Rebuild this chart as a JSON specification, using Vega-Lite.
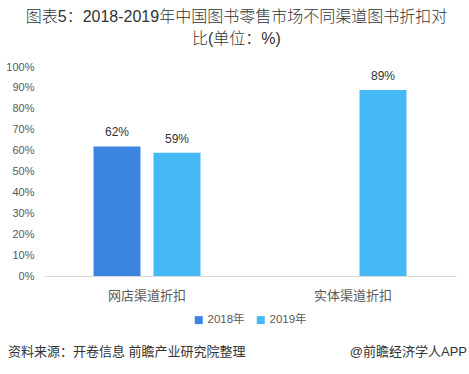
{
  "$schema": "https://vega.github.io/schema/vega-lite/v6.json",
  "padding": {"left": 5, "top": 9, "right": 0, "bottom": 0},
  "background": "white",
  "title": {
    "text": ["图表5：2018-2019年中国图书零售市场不同渠道图书折扣对", "比(单位：%)"],
    "anchor": "middle",
    "fontSize": 16,
    "fontWeight": 300,
    "font": "Liberation Sans, Noto Sans CJK SC",
    "color": "#333333",
    "lineHeight": 22,
    "offset": 14
  },
  "datasets": {
    "bars": [
      {"channel": "网店渠道折扣", "year": "2018年", "value": 0.62},
      {"channel": "网店渠道折扣", "year": "2019年", "value": 0.59},
      {"channel": "实体渠道折扣", "year": "2019年", "value": 0.89}
    ],
    "footer": [
      {"side": "L", "text": "资料来源：开卷信息 前瞻产业研究院整理"},
      {"side": "R", "text": "@前瞻经济学人APP"}
    ]
  },
  "resolve": {"legend": {"color": "independent"}, "scale": {"color": "independent"}},
  "vconcat": [
    {
      "width": 412,
      "height": 209,
      "data": {"name": "bars"},
      "encoding": {
        "x": {
          "field": "channel",
          "type": "nominal",
          "sort": ["网店渠道折扣", "实体渠道折扣"],
          "scale": {"paddingInner": 0, "paddingOuter": 0},
          "axis": {
            "title": null,
            "labelAngle": 0,
            "labelFontSize": 13,
            "labelColor": "#595959",
            "labelFont": "Liberation Sans, Noto Sans CJK SC",
            "labelPadding": 13,
            "ticks": false,
            "domainColor": "#d9d9d9",
            "grid": false
          }
        },
        "xOffset": {
          "field": "year",
          "type": "nominal",
          "scale": {"domain": ["2018年", "2019年"], "paddingInner": 0.2167, "paddingOuter": 0.825}
        },
        "y": {
          "field": "value",
          "type": "quantitative",
          "scale": {"domain": [0, 1]},
          "axis": {
            "title": null,
            "format": ".0%",
            "values": [0, 0.1, 0.2, 0.3, 0.4, 0.5, 0.6, 0.7, 0.8, 0.9, 1],
            "labelOverlap": false,
            "labelFontSize": 11,
            "labelColor": "#595959",
            "labelFont": "Liberation Sans, Noto Sans CJK SC",
            "labelPadding": 10,
            "ticks": false,
            "domain": false,
            "grid": false
          }
        }
      },
      "layer": [
        {
          "mark": {"type": "bar"},
          "encoding": {
            "color": {
              "field": "year",
              "type": "nominal",
              "scale": {"domain": ["2018年", "2019年"], "range": ["#3B85E0", "#45B9F6"]},
              "legend": {
                "title": null,
                "orient": "bottom",
                "direction": "horizontal",
                "symbolType": "square",
                "symbolSize": 64,
                "symbolStrokeWidth": 0,
                "labelFontSize": 11.5,
                "labelOffset": 3,
                "labelColor": "#595959",
                "labelFont": "Liberation Sans, Noto Sans CJK SC",
                "columnPadding": 10,
                "offset": 12
              }
            }
          }
        },
        {
          "mark": {"type": "text", "baseline": "bottom", "dy": -7, "fontSize": 12, "color": "#333333", "font": "Liberation Sans, Noto Sans CJK SC"},
          "encoding": {
            "text": {"field": "value", "type": "quantitative", "format": ".0%"}
          }
        }
      ]
    },
    {
      "width": 423,
      "height": 14,
      "data": {"name": "footer"},
      "encoding": {
        "x": {
          "field": "side",
          "type": "nominal",
          "scale": {"type": "point", "domain": ["L", "R"], "padding": 0},
          "axis": null
        }
      },
      "layer": [
        {
          "transform": [{"filter": "datum.side === 'L'"}],
          "mark": {"type": "text", "align": "left", "baseline": "middle", "dx": -36, "fontSize": 13, "color": "#333333", "font": "Liberation Sans, Noto Sans CJK SC"},
          "encoding": {"text": {"field": "text"}}
        },
        {
          "transform": [{"filter": "datum.side === 'R'"}],
          "mark": {"type": "text", "align": "right", "baseline": "middle", "fontSize": 13, "color": "#333333", "font": "Liberation Sans, Noto Sans CJK SC"},
          "encoding": {"text": {"field": "text"}}
        }
      ]
    }
  ],
  "spacing": 19,
  "config": {
    "view": {"stroke": null},
    "legend": {"layout": {"bottom": {"anchor": "middle"}}}
  }
}
